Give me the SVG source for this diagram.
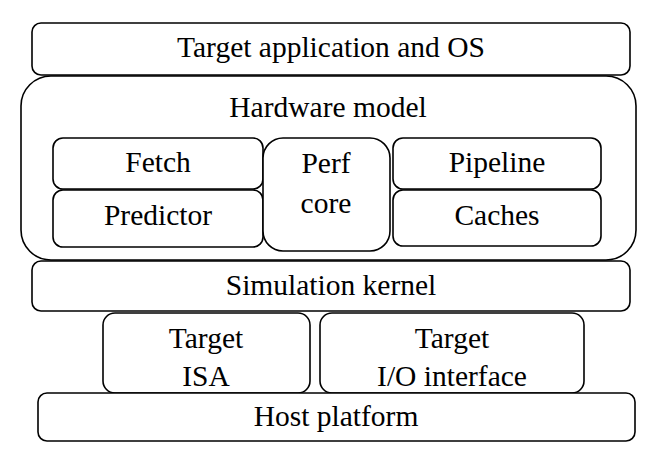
<svg xmlns="http://www.w3.org/2000/svg" width="657" height="460" viewBox="0 0 657 460">
<rect x="0" y="0" width="657" height="460" fill="#fff"/>
<g id="app"><rect x="32" y="23" width="598" height="52" rx="9" fill="#fff" stroke="#000" stroke-width="1.6"/><text font-family="Times New Roman, Liberation Serif, serif" font-size="29.5" text-anchor="middle" x="331" y="57">Target application and OS</text></g>
<g id="hw"><rect x="21" y="76" width="615" height="184" rx="30" fill="#fff" stroke="#000" stroke-width="1.6"/><text font-family="Times New Roman, Liberation Serif, serif" font-size="29.5" text-anchor="middle" x="328" y="117">Hardware model</text></g>
<g id="fetch"><rect x="53" y="138" width="210" height="51" rx="10" fill="#fff" stroke="#000" stroke-width="1.6"/><text font-family="Times New Roman, Liberation Serif, serif" font-size="29.5" text-anchor="middle" x="158" y="172">Fetch</text></g>
<g id="predictor"><rect x="53" y="190" width="210" height="57" rx="10" fill="#fff" stroke="#000" stroke-width="1.6"/><text font-family="Times New Roman, Liberation Serif, serif" font-size="29.5" text-anchor="middle" x="158" y="225">Predictor</text></g>
<g id="perf"><rect x="263" y="138" width="127" height="113" rx="20" fill="#fff" stroke="#000" stroke-width="1.6"/><text font-family="Times New Roman, Liberation Serif, serif" font-size="29.5" text-anchor="middle" x="326" y="173">Perf</text><text font-family="Times New Roman, Liberation Serif, serif" font-size="29.5" text-anchor="middle" x="326" y="213">core</text></g>
<g id="pipeline"><rect x="393" y="138" width="208" height="51" rx="10" fill="#fff" stroke="#000" stroke-width="1.6"/><text font-family="Times New Roman, Liberation Serif, serif" font-size="29.5" text-anchor="middle" x="497" y="172">Pipeline</text></g>
<g id="caches"><rect x="393" y="190" width="208" height="56" rx="10" fill="#fff" stroke="#000" stroke-width="1.6"/><text font-family="Times New Roman, Liberation Serif, serif" font-size="29.5" text-anchor="middle" x="497" y="225">Caches</text></g>
<g id="kernel"><rect x="32" y="261" width="598" height="50" rx="9" fill="#fff" stroke="#000" stroke-width="1.6"/><text font-family="Times New Roman, Liberation Serif, serif" font-size="29.5" text-anchor="middle" x="331" y="295">Simulation kernel</text></g>
<g id="isa"><rect x="103" y="313" width="207" height="80" rx="12" fill="#fff" stroke="#000" stroke-width="1.6"/><text font-family="Times New Roman, Liberation Serif, serif" font-size="29.5" text-anchor="middle" x="206" y="348">Target</text><text font-family="Times New Roman, Liberation Serif, serif" font-size="29.5" text-anchor="middle" x="206" y="386">ISA</text></g>
<g id="io"><rect x="320" y="313" width="264" height="80" rx="12" fill="#fff" stroke="#000" stroke-width="1.6"/><text font-family="Times New Roman, Liberation Serif, serif" font-size="29.5" text-anchor="middle" x="452" y="348">Target</text><text font-family="Times New Roman, Liberation Serif, serif" font-size="29.5" text-anchor="middle" x="452" y="386">I/O interface</text></g>
<g id="host"><rect x="38" y="393" width="597" height="48" rx="9" fill="#fff" stroke="#000" stroke-width="1.6"/><text font-family="Times New Roman, Liberation Serif, serif" font-size="29.5" text-anchor="middle" x="336" y="426">Host platform</text></g>
<g id="connectors"></g>
</svg>
